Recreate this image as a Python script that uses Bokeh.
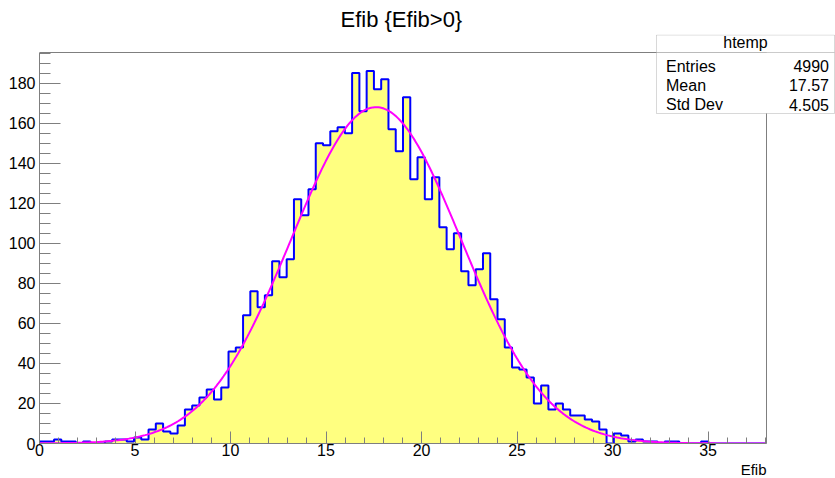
import numpy as np
from bokeh.plotting import figure
from bokeh.models import Range1d, FixedTicker, Label, BoxAnnotation, Title
from bokeh.embed import file_html
from bokeh.resources import INLINE

# ---- data ----
counts = [1, 1, 2, 1, 1, 0, 1, 0, 0, 1,
          2, 2, 1, 3, 2, 7, 10, 6, 5, 9,
          17, 19, 23, 27, 22, 28, 46, 48, 64, 76,
          68, 74, 91, 83, 92, 122, 114, 127, 150, 149,
          156, 158, 155, 185, 166, 186, 177, 182, 157, 146,
          173, 132, 143, 122, 133, 108, 97, 105, 86, 79,
          87, 95, 72, 62, 48, 38, 37, 33, 20, 29,
          17, 20, 17, 14, 14, 12, 11, 7, 0, 5,
          4, 1, 2, 1, 1, 0, 1, 1, 0, 0,
          0, 1, 0, 0, 0, 0, 0, 0, 0, 0]
x_low, x_high = 0.0, 38.06
fit_constant, fit_mean, fit_sigma = 168.0, 17.62, 4.45
x_major_ticks = [0, 5, 10, 15, 20, 25, 30, 35]
y_major_ticks = [0, 20, 40, 60, 80, 100, 120, 140, 160, 180]
stats_title = "htemp"
stats_labels = ["Entries", "Mean", "Std Dev"]
stats_values = ["4990", "17.57", "4.505"]
title_text = "Efib {Efib>0}"
x_title = "Efib"

# ---- layout ----
W, H = 835, 478
FL, FT, FB = 39, 34, 443          # frame (extends to the canvas right edge)
AXR, AXT = 766, 52                # right / top end of the drawn axes
FONT = "Liberation Sans"
GRAY = "#7f7f7f"

nb = len(counts)
edges = np.linspace(x_low, x_high, nb + 1)
y_high = max(counts) * 1.05
x_view = x_high + (W - AXR) / (AXR - FL) * (x_high - x_low)
y_view = y_high + (AXT - FT) / (FB - AXT) * y_high

p = figure(width=W, height=H, output_backend="svg", toolbar_location=None,
           x_range=Range1d(x_low, x_view), y_range=Range1d(0, y_view),
           min_border_left=FL, min_border_right=0,
           min_border_top=FT, min_border_bottom=H - FB)
p.background_fill_color = "white"
p.border_fill_color = "white"
p.outline_line_color = None
p.xgrid.visible = False
p.ygrid.visible = False

p.title.text = title_text
p.title.align = "left"
p.title.offset = 301
p.title.standoff = 5
p.title.text_font = FONT
p.title.text_font_size = "22px"
p.title.text_font_style = "normal"
p.title.text_color = "black"

xa = p.xaxis[0]
xa.bounds = (x_low, x_high)
xa.ticker = FixedTicker(ticks=x_major_ticks,
                        minor_ticks=list(range(0, int(x_high) + 1)))
xa.major_tick_in = 12
xa.major_tick_out = 0
xa.minor_tick_in = 6
xa.minor_tick_out = 0
xa.axis_line_color = GRAY
xa.major_tick_line_color = GRAY
xa.minor_tick_line_color = GRAY
xa.major_label_text_font = FONT
xa.major_label_text_font_size = "16px"
xa.major_label_text_color = "black"
xa.major_label_standoff = 0

ya = p.yaxis[0]
ya.bounds = (0, y_high)
ya.ticker = FixedTicker(ticks=y_major_ticks,
                        minor_ticks=list(range(0, int(y_high) + 1, 5)))
ya.major_tick_in = 21
ya.major_tick_out = 0
ya.minor_tick_in = 11
ya.minor_tick_out = 0
ya.axis_line_color = GRAY
ya.major_tick_line_color = GRAY
ya.minor_tick_line_color = GRAY
ya.major_label_text_font = FONT
ya.major_label_text_font_size = "16px"
ya.major_label_text_color = "black"
ya.major_label_standoff = 4

# x axis title, right-aligned at the end of the drawn axis
p.add_layout(Title(text=x_title, align="right", offset=(W - AXR), standoff=0,
                   text_font=FONT, text_font_size="15px",
                   text_font_style="normal", text_color="black"), "below")

# histogram fill + outline (one polygon, no seams)
hx = np.repeat(edges, 2)
hy = np.concatenate([[0], np.repeat(counts, 2), [0]])
p.patch(hx, hy, fill_color="#ffff80", line_color=None)
p.line(hx, hy, line_color="#0000ff", line_width=2)

# gaussian fit
fx = np.linspace(x_low, x_high, 400)
fy = fit_constant * np.exp(-0.5 * ((fx - fit_mean) / fit_sigma) ** 2)
p.line(fx, fy, line_color="#ff00ff", line_width=2)

# frame top and right lines
p.segment(x0=[x_low, x_high], y0=[y_high, 0], x1=[x_high, x_high],
          y1=[y_high, y_high], line_color=GRAY, line_width=1)

# pixel -> data helpers for the stats box
def dx(px):
    return x_low + (px - FL) / (AXR - FL) * (x_high - x_low)

def dy(py):
    return (FB - py) / (FB - AXT) * y_high

BL, BR, BT, BS, BB = 656, 834, 34.5, 52, 113
p.add_layout(BoxAnnotation(left=dx(BL), right=dx(BR), top=dy(BT), bottom=dy(BS),
                           fill_color="white", fill_alpha=1, line_color=GRAY,
                           line_width=1))
p.add_layout(BoxAnnotation(left=dx(BL), right=dx(BR), top=dy(BS), bottom=dy(BB),
                           fill_color="white", fill_alpha=1, line_color=GRAY,
                           line_width=1))
p.add_layout(Label(x=dx((BL + BR) / 2), y=dy(41.5), text=stats_title,
                   text_align="center", text_baseline="alphabetic",
                   text_font=FONT, text_font_size="16px", text_color="black"))
for i, (lab, val) in enumerate(zip(stats_labels, stats_values)):
    base = [65.5, 84.7, 104.0][i]
    p.add_layout(Label(x=dx(665.5), y=dy(base), text=lab, text_align="left",
                       text_baseline="alphabetic", text_font=FONT,
                       text_font_size="16px", text_color="black"))
    p.add_layout(Label(x=dx(828.5), y=dy(base), text=val, text_align="right",
                       text_baseline="alphabetic", text_font=FONT,
                       text_font_size="16px", text_color="black"))

open("out.html", "w").write(file_html(p, INLINE))
